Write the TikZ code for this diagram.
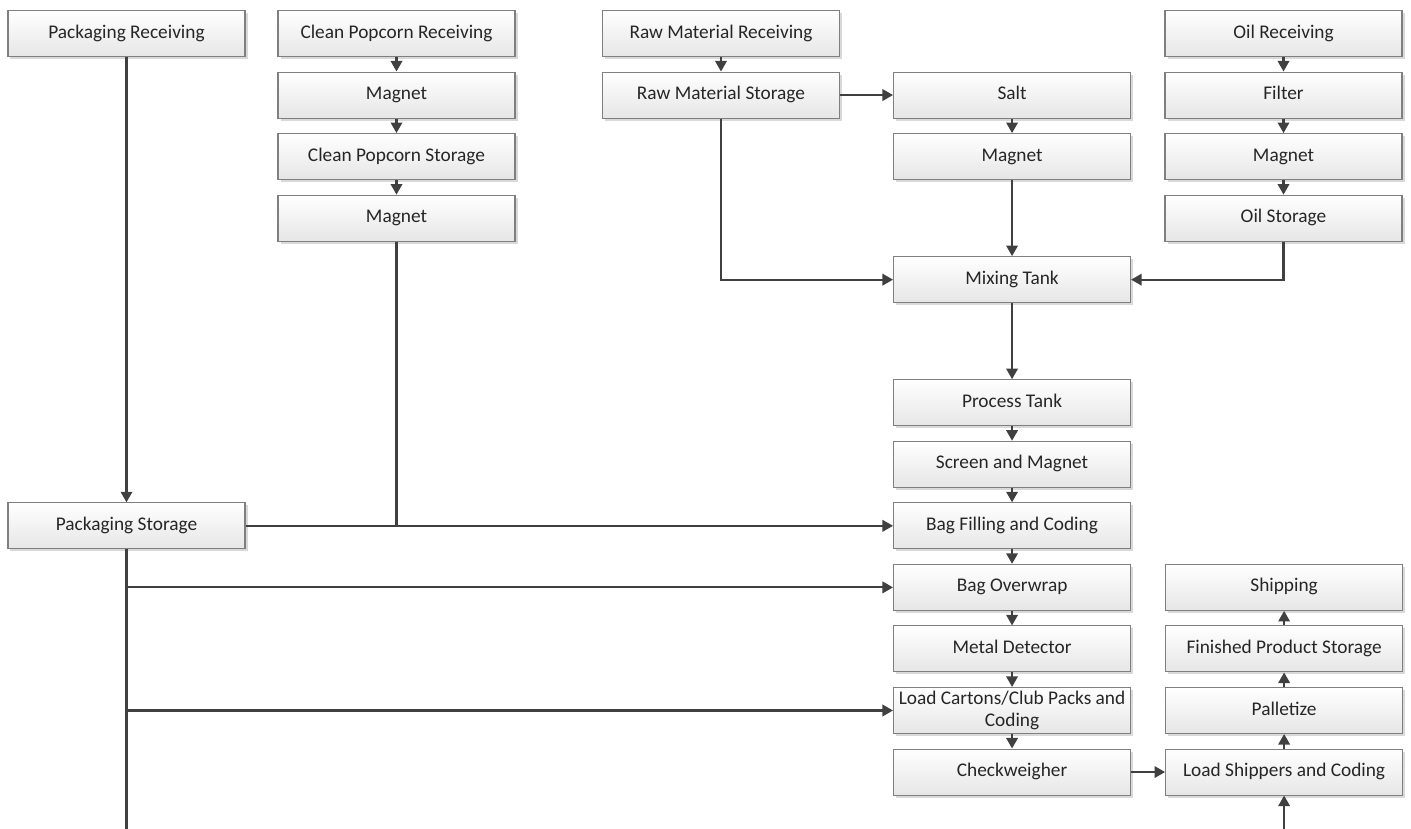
\documentclass[tikz,border=0pt]{standalone}
\usepackage{fontspec}
\setmainfont{Carlito}
\usepackage{tikz}
\usetikzlibrary{positioning,arrows.meta,shadows}

\definecolor{linegray}{HTML}{404040}
\definecolor{boxgray}{HTML}{7F7F7F}
\definecolor{boxfill}{HTML}{E6E6E6}
\definecolor{textgray}{HTML}{262626}

\begin{document}
\begin{tikzpicture}[->,>={Triangle[length=6pt,width=6.5pt]},line width=1.2pt,draw=linegray,node distance=0.29cm]
          \tikzstyle{box}=[rectangle,draw=boxgray,line width=0.6pt,top color=white,bottom color=boxfill,
            drop shadow={shadow xshift=0.05cm,shadow yshift=-0.05cm,fill=black,opacity=0.15},
            text=textgray,font=\fontsize{11}{12.5}\selectfont,align=center,text height=1.55ex,text depth=0.45ex,
            minimum width=4.74cm,inner xsep=0.05cm,inner ysep=0.05cm,minimum height=0.92cm]
          \useasboundingbox (0,0) rectangle (28.22,-16.58);
          % top row
          \node[box]    (packrecv)  at (2.53,-0.67)   {Packaging Receiving};
          \node[box]    (cleanrecv) at (7.93,-0.67)   {Clean Popcorn Receiving};
          \node[box]    (rawrecv)   at (14.42,-0.67)  {Raw Material Receiving};
          \node[box]    (oilrecv)   at (25.67,-0.67)  {Oil Receiving};
          % popcorn
          \node[box]    (magA)      [below=of cleanrecv] {Magnet};
          \node[box]    (cleanstor) [below=of magA]      {Clean Popcorn Storage};
          \node[box]    (magB)      [below=of cleanstor] {Magnet};
          % raw material and salt
          \node[box]    (rawstor)   [below=of rawrecv]   {Raw Material Storage};
          \node[box]    (salt)      [right=1.06cm of rawstor] {Salt};
          \node[box]    (magC)      [below=of salt]      {Magnet};
          % oil
          \node[box]    (filter)    [below=of oilrecv]   {Filter};
          \node[box]    (magD)      [below=of filter]    {Magnet};
          \node[box]    (oilstor)   [below=of magD]      {Oil Storage};
          % main line
          \node[box]    (mixing)    [below=1.52cm of magC]    {Mixing Tank};
          \node[box]    (proctank)  [below=1.52cm of mixing]  {Process Tank};
          \node[box]    (screen)    [below=of proctank]  {Screen and Magnet};
          \node[box]    (bagfill)   [below=of screen]    {Bag Filling and Coding};
          \node[box]    (overwrap)  [below=of bagfill]   {Bag Overwrap};
          \node[box]    (metaldet)  [below=of overwrap]  {Metal Detector};
          \node[box,text height=,text depth=] (cartons) [below=of metaldet] {Load Cartons/Club Packs and\\Coding};
          \node[box]    (checkw)    [below=of cartons]   {Checkweigher};
          % finished product
          \node[box]    (loadship)  [right=0.68cm of checkw] {Load Shippers and Coding};
          \node[box]    (pallet)    [above=of loadship]  {Palletize};
          \node[box]    (finstor)   [above=of pallet]    {Finished Product Storage};
          \node[box]    (shipping)  [above=of finstor]   {Shipping};
          % packaging
          \node[box]    (packstor)  at (packrecv |- bagfill) {Packaging Storage};
          \coordinate (pbot) at (packstor.south |- 0,-16.58);
          \coordinate (sbot) at (loadship.south |- 0,-16.58);
          \coordinate (jA) at (packstor.south |- overwrap);
          \coordinate (jB) at (packstor.south |- cartons);
          \path
          (packrecv) edge (packstor)
          (cleanrecv) edge (magA)
          (magA) edge (cleanstor)
          (cleanstor) edge (magB)
          (rawrecv) edge (rawstor)
          (rawstor) edge (salt)
          (salt) edge (magC)
          (magC) edge (mixing)
          (oilrecv) edge (filter)
          (filter) edge (magD)
          (magD) edge (oilstor)
          (mixing) edge (proctank)
          (proctank) edge (screen)
          (screen) edge (bagfill)
          (bagfill) edge (overwrap)
          (overwrap) edge (metaldet)
          (metaldet) edge (cartons)
          (cartons) edge (checkw)
          (checkw) edge (loadship)
          (sbot) edge (loadship)
          (loadship) edge (pallet)
          (pallet) edge (finstor)
          (finstor) edge (shipping)
          (packstor) edge (bagfill)
          (jA) edge (overwrap)
          (jB) edge (cartons);
          \draw (rawstor) |- (mixing);
          \draw (oilstor) |- (mixing);
          \draw[-] (magB) -- (magB |- packstor);
          \draw[-] (packstor) -- (pbot);
        \end{tikzpicture}
\end{document}
